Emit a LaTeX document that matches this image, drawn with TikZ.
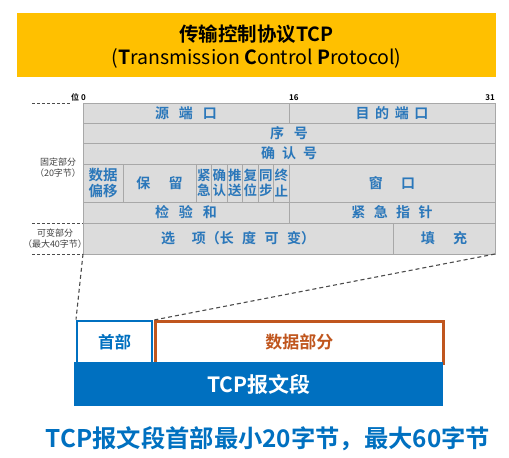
\documentclass[tikz,border=0pt]{standalone}
\usepackage{fontspec}
\setmainfont{Noto Sans CJK SC}[BoldFont={Noto Sans CJK SC Bold}]
\newfontfamily\cjk{Noto Sans CJK SC}[BoldFont={Noto Sans CJK SC Bold}]
\definecolor{ttlyel}{HTML}{FFC000}
\definecolor{tcpblue}{HTML}{0070C0}
\definecolor{txtblue}{HTML}{2A77BA}
\definecolor{dataorg}{HTML}{C0561E}
\definecolor{cellgray}{HTML}{DCDCDC}
\definecolor{cellline}{HTML}{A8A8A8}
\definecolor{lblgray}{HTML}{404040}
\begin{document}
\begin{tikzpicture}[x=1pt,y=-1pt,
  cell/.style={draw=cellline,fill=cellgray,line width=0.9pt,inner sep=0pt,outer sep=0pt,anchor=north west,
     text=txtblue,font=\cjk\fontsize{14}{15}\selectfont\bfseries,align=center},
  flag/.style={cell,minimum width=15.5pt,minimum height=38pt,font=\cjk\fontsize{13.5}{15.5}\selectfont\bfseries},
  side/.style={text=lblgray,font=\cjk\fontsize{9}{11}\selectfont,align=center,inner sep=0pt},
  bitlbl/.style={text=black,font=\cjk\fontsize{8}{9}\selectfont\bfseries,inner sep=0pt},
  guide/.style={draw=black!70,line width=1.1pt,dash pattern=on 4pt off 3pt},
  sguide/.style={draw=black!70,line width=0.9pt,dash pattern=on 3pt off 2pt}]
\useasboundingbox (0,0) rectangle (509,458);
% title
\node[fill=ttlyel,minimum width=479pt,minimum height=64pt,inner sep=0pt,anchor=north west] (title) at (17,13) {};
\node[font=\cjk\fontsize{19.5}{21}\selectfont\bfseries] (t1) at (256.5,34) {传输控制协议TCP};
\node[font=\cjk\fontsize{19.5}{21}\selectfont] (t2) at (256.5,58) {(\textbf{T}ransmission \textbf{C}ontrol \textbf{P}rotocol)};
% bit labels
\node[bitlbl,anchor=base west] (b0) at (71,100) {位 0};
\node[bitlbl,anchor=base west] (b16) at (289,100) {16};
\node[bitlbl,anchor=base east] (b31) at (495,100) {31};
% table
\node[cell,minimum width=206pt,minimum height=20pt] (src) at (83,103) {源\hspace{0.7em}端\hspace{0.7em}口};
\node[cell,minimum width=206pt,minimum height=20pt] (dst) at (289,103) {目\hspace{0.4em}的\hspace{0.4em}端\hspace{0.4em}口};
\node[cell,minimum width=412pt,minimum height=20pt] (seq) at (83,123) {序\hspace{0.7em}号};
\node[cell,minimum width=412pt,minimum height=21pt] (ack) at (83,143) {确\hspace{0.5em}认\hspace{0.5em}号};
\node[cell,minimum width=40pt,minimum height=38pt,font=\cjk\fontsize{14.5}{16}\selectfont\bfseries] (off) at (83,164) {数据\\偏移};
\node[cell,minimum width=73pt,minimum height=38pt] (res) at (123,164) {保\hspace{1.3em}留};
\node[flag] (urg) at (196,164) {紧\\急};
\node[flag] (ackf) at (211.5,164) {确\\认};
\node[flag] (psh) at (227,164) {推\\送};
\node[flag] (rst) at (242.5,164) {复\\位};
\node[flag] (syn) at (258,164) {同\\步};
\node[flag] (fin) at (273.5,164) {终\\止};
\node[cell,minimum width=206pt,minimum height=38pt] (win) at (289,164) {窗\hspace{1.3em}口};
\node[cell,minimum width=206pt,minimum height=21pt] (chk) at (83,202) {检\hspace{0.7em}验\hspace{0.7em}和};
\node[cell,minimum width=206pt,minimum height=21pt] (urgp) at (289,202) {紧\hspace{0.6em}急\hspace{0.6em}指\hspace{0.6em}针};
\node[cell,minimum width=310pt,minimum height=31pt] (opt) at (83,223) {选\hspace{1.2em}项（长\hspace{0.6em}度\hspace{0.6em}可\hspace{0.6em}变）};
\node[cell,minimum width=102pt,minimum height=31pt] (pad) at (393,223) {填\hspace{1.3em}充};
% side labels
\node[side] (fix) at (58,168) {固定部分\\（20字节）};
\node[side] (var) at (55,238.5) {可变部分\\（最大40字节）};
\coordinate (g1) at (32,103);
\coordinate (g1e) at (70,103);
\coordinate (g2) at (32,223);
\coordinate (g3) at (32,254);
\draw[sguide] (g1) -- (g1e);
\draw[sguide] (g2) -- (opt.north west);
\draw[sguide] (g3) -- (opt.south west);
% segment
\node[draw=tcpblue,line width=2pt,minimum width=75pt,minimum height=43pt,inner sep=0pt,anchor=north west,
  text=tcpblue,font=\cjk\fontsize{16.5}{18}\selectfont\bfseries] (head) at (76,319.5) {首部};
\node[draw=dataorg,line width=2.5pt,minimum width=288pt,minimum height=42pt,inner sep=0pt,anchor=north west,
  text=dataorg,font=\cjk\fontsize{17}{18}\selectfont\bfseries] (data) at (154,320) {数据部分};
\node[fill=tcpblue,minimum width=369pt,minimum height=44pt,inner sep=0pt,anchor=north west,
  text=white,font=\cjk\fontsize{21}{23}\selectfont\bfseries] (seg) at (74,362) {TCP报文段};
\draw[guide] (opt.south west) -- (head.north west);
\draw[guide] (pad.south east) -- (data.north west);
\node[text=tcpblue,font=\cjk\fontsize{24.3}{26}\selectfont\bfseries] (note) at (268,439) {TCP报文段首部最小20字节，最大60字节};
\end{tikzpicture}
\end{document}
